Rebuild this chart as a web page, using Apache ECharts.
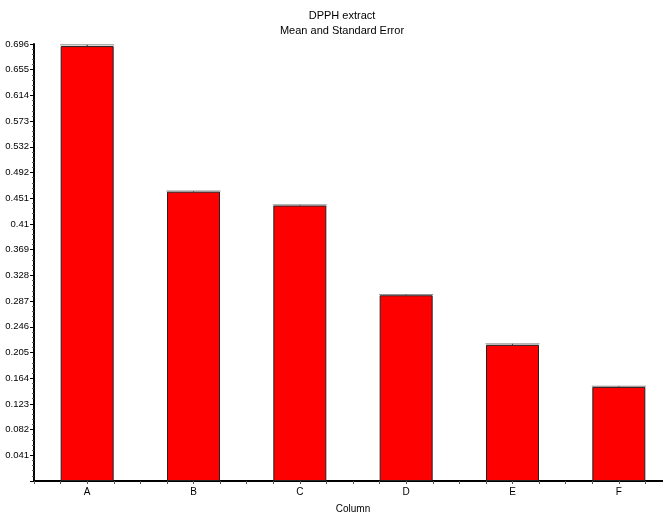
<!DOCTYPE html>
<html>
<head>
<meta charset="utf-8">
<script src="https://cdn.jsdelivr.net/npm/echarts@6/dist/echarts.min.js"></script>
<style>html,body{margin:0;padding:0;background:#fff;}#c{width:663px;height:514px;}</style>
</head>
<body>
<div id="c"></div>
<script>
var categories = ['A', 'B', 'C', 'D', 'E', 'F'];
var means = [0.693, 0.461, 0.439, 0.296, 0.217, 0.150];
var stdErrors = [0.002, 0.001, 0.001, 0.001, 0.0015, 0.001];
var yTickLabels = ['', '0.041', '0.082', '0.123', '0.164', '0.205', '0.246', '0.287', '0.328', '0.369', '0.41', '0.451', '0.492', '0.532', '0.573', '0.614', '0.655', '0.696'];
var yInterval = 0.04096;
var yMax = 0.04096 * 17;

var FONT = 'Liberation Sans, Arial, sans-serif';
var chart = echarts.init(document.getElementById('c'));
var barData = means.map(function (v, i) { return [i, v]; });
var errData = means.map(function (v, i) { return [i, v, stdErrors[i]]; });

chart.setOption({
  animation: false,
  title: {
    text: 'DPPH extract\nMean and Standard Error',
    left: 337, top: 3, textAlign: 'center',
    textStyle: { fontFamily: FONT, fontSize: 11, fontWeight: 'normal', color: '#000', lineHeight: 15 }
  },
  grid: { left: 34, right: -9, top: 44, bottom: 33, outerBoundsMode: 'none', containLabel: false },
  xAxis: {
    type: 'value', min: -0.5, max: 5.5, interval: 0.25,
    name: 'Column', nameLocation: 'middle', nameGap: 23,
    nameTextStyle: { fontFamily: FONT, fontSize: 10, color: '#000' },
    axisLine: { onZero: false, lineStyle: { color: '#000', width: 2 } },
    axisTick: { show: true, length: 3, lineStyle: { color: '#555' } },
    axisLabel: {
      fontFamily: FONT, fontSize: 10, color: '#000', margin: 6,
      showMinLabel: true, showMaxLabel: true, hideOverlap: false,
      formatter: function (v) {
        var r = Math.round(v);
        return Math.abs(v - r) < 1e-6 && r >= 0 && r < categories.length ? categories[r] : '';
      }
    },
    splitLine: { show: false }
  },
  yAxis: {
    type: 'value', min: 0, max: yMax, interval: yInterval,
    axisLine: { show: true, onZero: false, lineStyle: { color: '#000', width: 2 } },
    axisTick: { show: true, length: 4, lineStyle: { color: '#000' } },
    minorTick: { show: true, splitNumber: 5, length: 2, lineStyle: { color: '#555' } },
    axisLabel: {
      fontFamily: FONT, fontSize: 9.5, color: '#000', margin: 5,
      formatter: function (v) { return yTickLabels[Math.round(v / yInterval)] || ''; }
    },
    splitLine: { show: false }
  },
  series: [
    {
      type: 'bar', data: barData, barWidth: 53,
      itemStyle: { color: '#ff0000', borderColor: '#222', borderWidth: 1 }
    },
    {
      type: 'custom', data: errData, z: 5,
      renderItem: function (params, api) {
        var x = api.value(0), m = api.value(1), se = api.value(2);
        var top = api.coord([x, m + se]);
        var base = api.coord([x, m]);
        var hw = 27;
        return {
          type: 'group',
          children: [
            { type: 'line', shape: { x1: top[0] - hw, y1: top[1], x2: top[0] + hw, y2: top[1] }, style: { stroke: '#888', lineWidth: 1 } },
            { type: 'line', shape: { x1: top[0], y1: top[1], x2: base[0], y2: base[1] }, style: { stroke: '#333', lineWidth: 1 } }
          ]
        };
      }
    }
  ]
});
</script>
</body>
</html>
